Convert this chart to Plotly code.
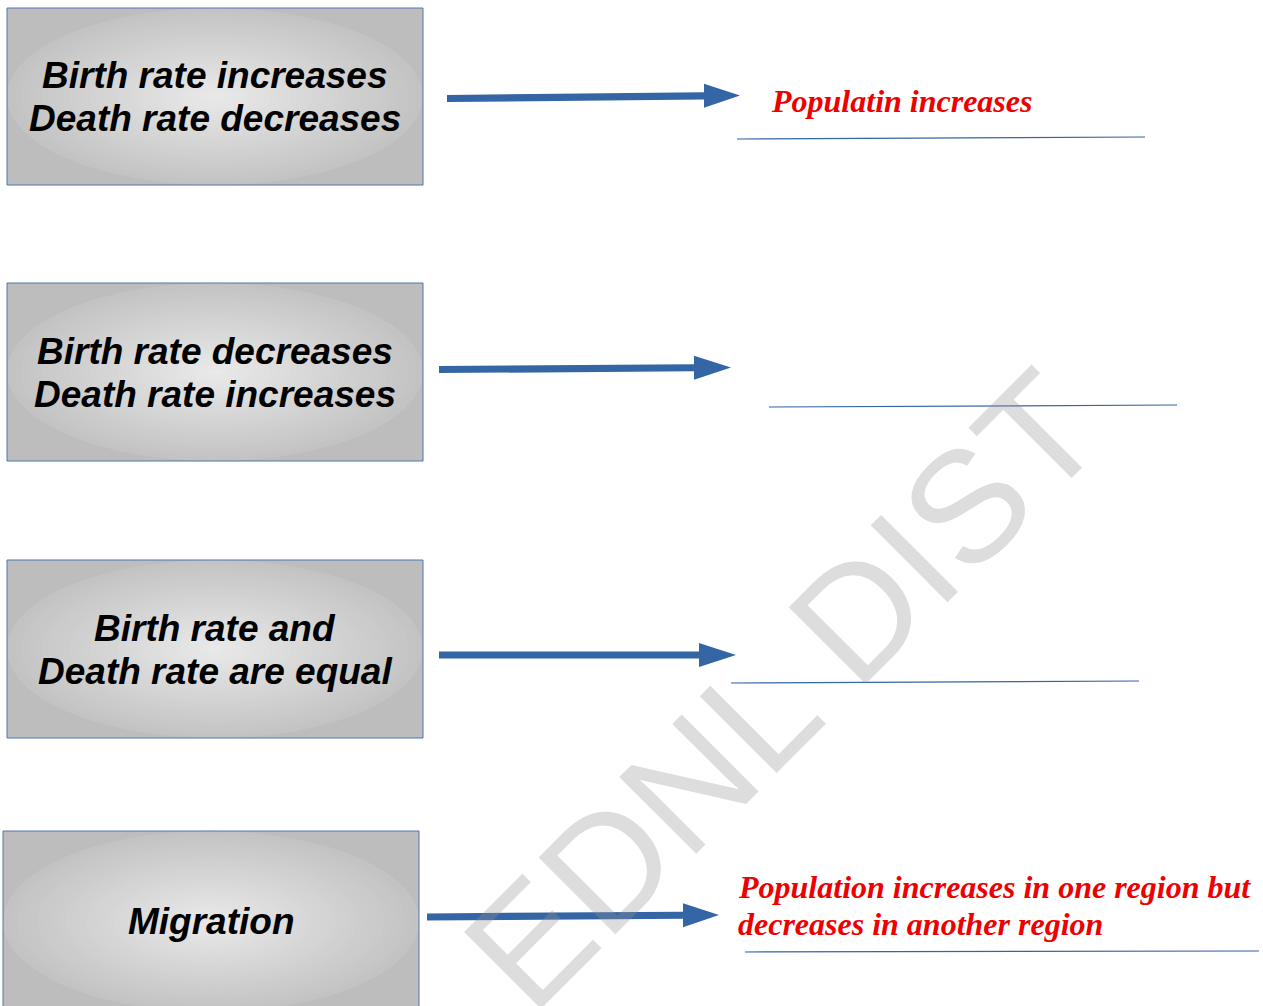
import plotly.graph_objects as go

# ---- content ----
causes = [
    ["Birth rate increases", "Death rate decreases"],
    ["Birth rate decreases", "Death rate increases"],
    ["Birth rate and", "Death rate are equal"],
    ["Migration"],
]
outcomes = [
    ["Populatin increases"],
    [],
    [],
    ["Population increases in one region but", "decreases in another region"],
]
watermark = "EDNL DIST"

# ---- layout geometry (pixels) ----
W, H = 1263, 1006
box_rects = [(7, 8, 423, 185), (7, 283, 423, 461), (7, 560, 423, 738), (3, 831, 419, 1012)]
box_text_y = [[75, 118], [351, 394], [628, 671], [921]]
arrows = [  # x0, y0, head base x, tip x, tip y
    (447, 98.5, 704, 740, 95.5),
    (439, 369.5, 694, 731, 367.5),
    (439, 655, 699, 736, 655),
    (427, 917, 683, 719, 915),
]
underlines = [(737, 139, 1145, 137), (769, 407, 1177, 405), (731, 683, 1139, 681), (745, 952, 1259, 951)]
outcome_pos = [(769, [101]), None, None, (736, [887, 924])]

BLUE = "#3465A4"
shapes = []
annotations = []


def grey(v):
    v = int(round(v))
    return f"rgb({v},{v},{v})"


for (x0, y0, x1, y1) in box_rects:
    shapes.append(dict(type="rect", x0=x0, y0=y0, x1=x1, y1=y1, xref="x", yref="y",
                       fillcolor=grey(189), line=dict(width=0), layer="above"))
    cx, cy = (x0 + x1) / 2, (y0 + y1) / 2
    hw, hh = (x1 - x0) / 2, (y1 - y0) / 2
    n = 30
    for i in range(n):
        s = 1.0 - i / n
        g = 234 - (234 - 195) * s
        shapes.append(dict(type="circle", x0=cx - hw * s, x1=cx + hw * s, y0=cy - hh * s, y1=cy + hh * s,
                           xref="x", yref="y", fillcolor=grey(g), line=dict(width=0), layer="above"))
    shapes.append(dict(type="rect", x0=x0, y0=y0, x1=x1, y1=y1, xref="x", yref="y",
                       fillcolor="rgba(0,0,0,0)", line=dict(color="#4F74AD", width=1), layer="above"))

for (x0, y0, xh, xt, yt) in arrows:
    t = 3.6
    hh = 12
    yh = y0 + (yt - y0) * (xh - x0) / (xt - x0)
    path = (f"M {x0},{y0 - t} L {xh},{yh - t} L {xh},{yh - hh} L {xt},{yt} "
            f"L {xh},{yh + hh} L {xh},{yh + t} L {x0},{y0 + t} Z")
    shapes.append(dict(type="path", path=path, xref="x", yref="y", fillcolor=BLUE,
                       line=dict(width=0), layer="above"))

for (x0, y0, x1, y1) in underlines:
    shapes.append(dict(type="line", x0=x0, y0=y0, x1=x1, y1=y1, xref="x", yref="y",
                       line=dict(color=BLUE, width=1.2), layer="above"))

# watermark
annotations.append(dict(x=782, y=690, xref="x", yref="y", text=watermark, showarrow=False,
                        textangle=-45, font=dict(family="Liberation Sans", size=158,
                                                 color="rgba(150,150,150,0.32)")))

for lines, (x0, y0, x1, y1), ys in zip(causes, box_rects, box_text_y):
    for txt, y in zip(lines, ys):
        annotations.append(dict(x=(x0 + x1) / 2, y=y, xref="x", yref="y", text=f"<b><i>{txt}</i></b>",
                                showarrow=False, xanchor="center", yanchor="middle",
                                font=dict(family="Liberation Sans", size=37, color="black")))

for lines, pos in zip(outcomes, outcome_pos):
    if not lines:
        continue
    x, ys = pos
    for txt, y in zip(lines, ys):
        annotations.append(dict(x=x, y=y, xref="x", yref="y", text=f"<b><i>{txt}</i></b>",
                                showarrow=False, xanchor="left", yanchor="middle",
                                font=dict(family="Liberation Serif", size=32, color="#EE0000")))

fig = go.Figure()
fig.update_layout(
    width=W, height=H, margin=dict(l=0, r=0, t=0, b=0),
    paper_bgcolor="white", plot_bgcolor="white",
    xaxis=dict(range=[0, W], visible=False, fixedrange=True),
    yaxis=dict(range=[H, 0], visible=False, fixedrange=True),
    shapes=shapes, annotations=annotations, showlegend=False,
)
fig.write_html("out.html", config={"displayModeBar": False},
               post_script="document.body.style.margin='0';document.body.style.overflow='hidden';")
